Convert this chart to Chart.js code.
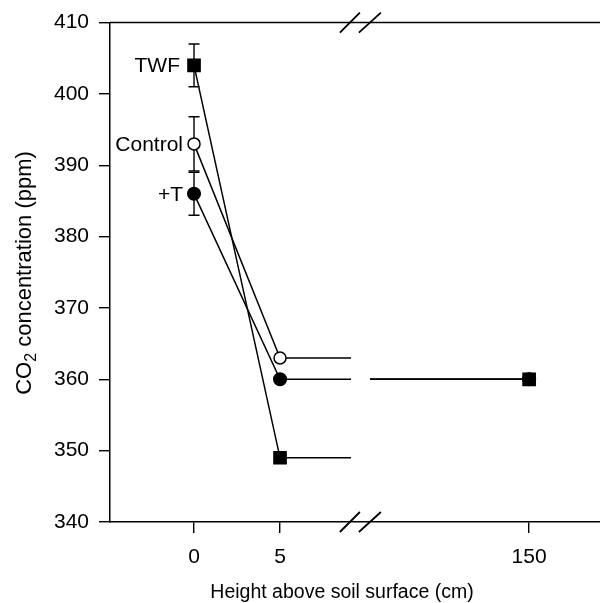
<!DOCTYPE html>
<html>
<head>
<meta charset="utf-8">
<script src="https://cdn.jsdelivr.net/npm/chart.js@4.4.1/dist/chart.umd.min.js"></script>
<style>
  html, body { margin: 0; padding: 0; background: #fff; }
  #wrap { width: 600px; height: 603px; }
</style>
</head>
<body>
<div id="wrap"><canvas id="co2Chart" width="600" height="603"></canvas></div>
<script>
// heights above the soil surface (cm) and the concentrations measured there
const heights = [0, 5, 150];
const tickLabels = ['0', '5', '150'];
const twf = [404, 349, 360];
const twfErr = [3, 0, 0];
const control = [393, 363, 360];
const controlErr = [3.8, 0, 0];
const plusT = [386, 360, 360];
const plusTErr = [3, 0, 0];
const yTicks = [340, 350, 360, 370, 380, 390, 400, 410];

// broken x axis: 0-5 cm is linear, 150 cm sits past the break
const axisPos = { 0: 0, 5: 5, 150: 19.48 };
const BREAK_L = 9.13, BREAK_R = 10.23, BREAK_MID = 9.7;
const FONT = "'Liberation Sans', Arial, sans-serif";

function seriesPoints(vals) {
  return [
    { x: axisPos[heights[0]], y: vals[0], marker: true },
    { x: axisPos[heights[1]], y: vals[1], marker: true },
    { x: BREAK_L, y: vals[1] },
    { x: (BREAK_L + BREAK_R) / 2, y: null },
    { x: BREAK_R, y: vals[2] },
    { x: axisPos[heights[2]], y: vals[2], marker: true }
  ];
}

const series = [
  { name: 'TWF', vals: twf, err: twfErr, style: 'rect', radius: 8.6, fill: '#000', dx: -14 },
  { name: 'Control', vals: control, err: controlErr, style: 'circle', radius: 6, fill: '#fff', dx: -11 },
  { name: '+T', vals: plusT, err: plusTErr, style: 'circle', radius: 6.3, fill: '#000', dx: -11 }
];

const decor = {
  id: 'decor',
  beforeDatasetsDraw(chart) {
    const { ctx, scales: { x, y } } = chart;
    ctx.save();
    ctx.strokeStyle = '#000';
    ctx.lineWidth = 1.4;
    series.forEach(s => {
      s.err.forEach((e, i) => {
        if (!e) return;
        const px = x.getPixelForValue(axisPos[heights[i]]);
        const top = y.getPixelForValue(s.vals[i] + e);
        const bot = y.getPixelForValue(s.vals[i] - e);
        ctx.beginPath();
        ctx.moveTo(px, top); ctx.lineTo(px, bot);
        ctx.moveTo(px - 5.5, top); ctx.lineTo(px + 5.5, top);
        ctx.moveTo(px - 5.5, bot); ctx.lineTo(px + 5.5, bot);
        ctx.stroke();
      });
    });
    ctx.restore();
  },
  afterDraw(chart) {
    const { ctx, chartArea: a, scales: { x, y } } = chart;
    ctx.save();
    ctx.fillStyle = '#000';
    ctx.strokeStyle = '#000';

    // top frame line
    ctx.lineWidth = 1.5;
    ctx.beginPath();
    ctx.moveTo(a.left, a.top);
    ctx.lineTo(a.right, a.top);
    ctx.stroke();

    // axis break marks
    const xb = x.getPixelForValue(BREAK_MID);
    ctx.lineWidth = 1.8;
    [a.top, a.bottom].forEach(yy => {
      ctx.beginPath();
      ctx.moveTo(xb - 21, yy + 10); ctx.lineTo(xb - 1, yy - 10);
      ctx.moveTo(xb - 2, yy + 10); ctx.lineTo(xb + 20, yy - 10);
      ctx.stroke();
    });

    // series labels beside the 0 cm points
    ctx.font = '21px ' + FONT;
    ctx.textAlign = 'right';
    ctx.textBaseline = 'middle';
    series.forEach(s => {
      const px = x.getPixelForValue(axisPos[heights[0]]);
      ctx.fillText(s.name, px + s.dx, y.getPixelForValue(s.vals[0]) + 1);
    });

    // x axis title
    ctx.font = '19.5px ' + FONT;
    ctx.textAlign = 'center';
    ctx.textBaseline = 'alphabetic';
    ctx.fillText('Height above soil surface (cm)', 342, 598);

    // y axis title with subscript
    ctx.translate(31, 273);
    ctx.rotate(-Math.PI / 2);
    const p1 = 'CO', p2 = '2', p3 = ' concentration (ppm)';
    ctx.font = '22px ' + FONT;
    const w1 = ctx.measureText(p1).width, w3 = ctx.measureText(p3).width;
    ctx.font = '16px ' + FONT;
    const w2 = ctx.measureText(p2).width;
    let sx = -(w1 + w2 + w3) / 2;
    ctx.textAlign = 'left';
    ctx.font = '22px ' + FONT;
    ctx.fillText(p1, sx, 0);
    ctx.font = '16px ' + FONT;
    ctx.fillText(p2, sx + w1, 5);
    ctx.font = '22px ' + FONT;
    ctx.fillText(p3, sx + w1 + w2, 0);
    ctx.restore();
  }
};

const ctx = document.getElementById('co2Chart').getContext('2d');
new Chart(ctx, {
  type: 'line',
  data: {
    datasets: series.map(s => ({
      label: s.name,
      data: seriesPoints(s.vals),
      borderColor: '#000',
      borderWidth: 1.5,
      backgroundColor: s.fill,
      pointStyle: s.style,
      pointBackgroundColor: s.fill,
      pointBorderColor: '#000',
      pointBorderWidth: 1.5,
      pointRadius: c => (c.raw && c.raw.marker ? s.radius : 0),
      pointHoverRadius: c => (c.raw && c.raw.marker ? s.radius : 0),
      spanGaps: false,
      tension: 0,
      fill: false
    }))
  },
  options: {
    responsive: false,
    animation: false,
    events: [],
    layout: { autoPadding: false, padding: { top: 21, right: 0, left: 0, bottom: 0 } },
    plugins: { legend: { display: false }, tooltip: { enabled: false } },
    scales: {
      x: {
        type: 'linear',
        min: -4.884,
        max: 23.6,
        afterFit: s => { s.height = 81; s.paddingLeft = 0; s.paddingRight = 0; },
        afterBuildTicks: s => { s.ticks = heights.map(h => ({ value: axisPos[h] })); },
        grid: { drawOnChartArea: false, drawTicks: true, tickLength: 11, color: '#000', lineWidth: 1.4 },
        border: { display: true, color: '#000', width: 1.5 },
        ticks: {
          color: '#000',
          font: { family: FONT, size: 21 },
          padding: 12,
          maxRotation: 0,
          callback: (v, i) => tickLabels[i]
        }
      },
      y: {
        min: 340,
        max: 410,
        afterFit: s => { s.width = 110; },
        afterBuildTicks: s => { s.ticks = yTicks.map(v => ({ value: v })); },
        grid: { drawOnChartArea: false, drawTicks: true, tickLength: 11, color: '#000', lineWidth: 1.4 },
        border: { display: true, color: '#000', width: 1.5 },
        ticks: {
          color: '#000',
          font: { family: FONT, size: 21 },
          padding: 10
        }
      }
    }
  },
  plugins: [decor]
});
</script>
</body>
</html>
